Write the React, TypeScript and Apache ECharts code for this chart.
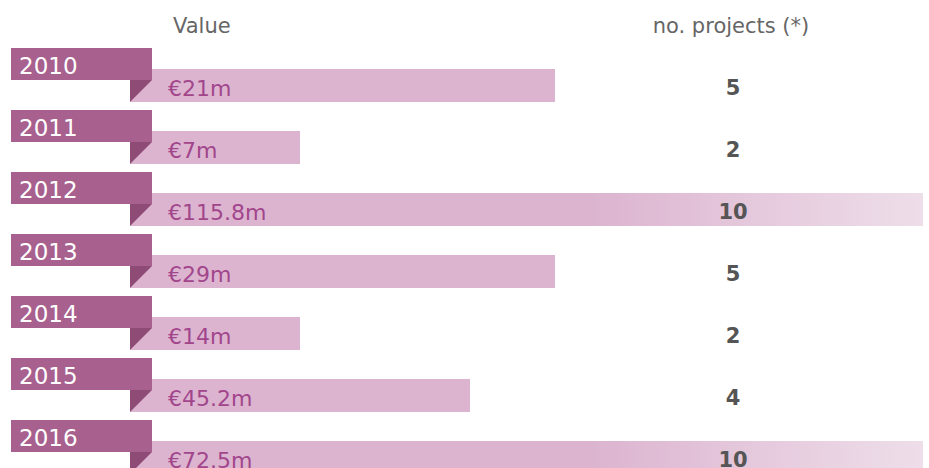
import React, { useEffect, useRef } from "react";
import * as echarts from "echarts";

const years = ["2010", "2011", "2012", "2013", "2014", "2015", "2016"];
const valueLabels = ["€21m", "€7m", "€115.8m", "€29m", "€14m", "€45.2m", "€72.5m"];
const projects = [5, 2, 10, 5, 2, 4, 10];
const columnTitles = ["Value", "no. projects (*)"];

const FONT = "'DejaVu Sans', sans-serif";

export default function App() {
  const ref = useRef<HTMLDivElement>(null);
  useEffect(() => {
    if (!ref.current) return;
    const chart = echarts.init(ref.current, undefined, { renderer: "svg" });
    const option = {
      animation: false,
      backgroundColor: "#ffffff",
      grid: { left: 130, right: 6, top: 44, bottom: 2 },
      xAxis: { type: "value", min: 0, max: 9.33, show: false },
      yAxis: { type: "category", data: years, inverse: true, show: false },
      graphic: [
        {
          type: "text",
          x: 173,
          y: 26,
          style: { text: columnTitles[0], fill: "#666666", fontSize: 21, fontFamily: FONT, verticalAlign: "middle", align: "left" },
        },
        {
          type: "text",
          x: 731,
          y: 26,
          style: { text: columnTitles[1], fill: "#666666", fontSize: 21, fontFamily: FONT, verticalAlign: "middle", align: "center" },
        },
      ],
      series: [
        {
          type: "custom",
          clip: false,
          data: projects.map((p, i) => [p, i]),
          renderItem: (params: any, api: any) => {
            const idx = api.value(1);
            const pt = api.coord([api.value(0), idx]);
            const cs = params.coordSys;
            const x0 = cs.x;
            const xMax = cs.x + cs.width;
            const xEnd = pt[0];
            const yc = pt[1];
            const clipped = xEnd > xMax + 0.5;
            const end = Math.min(xEnd, xMax);
            const fill = clipped
              ? new echarts.graphic.LinearGradient(0, 0, 1, 0, [
                  { offset: 0, color: "#dcb4d0" },
                  { offset: 0.58, color: "#dcb4d0" },
                  { offset: 1, color: "#eedee9" },
                ])
              : "#dcb4d0";
            return {
              type: "group",
              children: [
                { type: "rect", shape: { x: x0, y: yc - 6, width: end - x0, height: 33 }, style: { fill } },
                { type: "rect", shape: { x: x0 - 119, y: yc - 27, width: 141, height: 32 }, style: { fill: "#a8608e" } },
                {
                  type: "polygon",
                  shape: { points: [[x0, yc + 5], [x0 + 22, yc + 5], [x0, yc + 27]] },
                  style: { fill: "#8e4b76" },
                },
                {
                  type: "text",
                  x: x0 - 111,
                  y: yc - 9.5,
                  style: { text: years[idx], fill: "#ffffff", fontSize: 23, fontFamily: FONT, verticalAlign: "middle", align: "left" },
                },
                {
                  type: "text",
                  x: x0 + 38,
                  y: yc + 13.5,
                  style: { text: valueLabels[idx], fill: "#a2468c", fontSize: 22, fontFamily: FONT, verticalAlign: "middle", align: "left" },
                },
                {
                  type: "text",
                  x: 733,
                  y: yc + 12.5,
                  style: {
                    text: String(projects[idx]),
                    fill: "#555555",
                    fontSize: 21,
                    fontWeight: "bold",
                    fontFamily: FONT,
                    verticalAlign: "middle",
                    align: "center",
                  },
                },
              ],
            };
          },
        },
      ],
    };
    chart.setOption(option as any);
    return () => chart.dispose();
  }, []);
  return (
    <div
      ref={ref}
      style={{ position: "fixed", left: 0, top: 0, width: 929, height: 480 }}
    />
  );
}
